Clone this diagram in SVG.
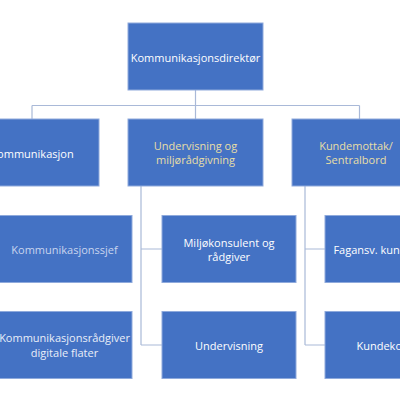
<svg xmlns="http://www.w3.org/2000/svg" width="400" height="400" viewBox="0 0 400 400">
<style>
.box{fill:#4472C4;stroke:#8FAADC;stroke-width:1}
.t{font-family:"Open Sans","Liberation Sans",sans-serif;font-size:11px;text-anchor:middle;dominant-baseline:central;fill:#FFFFFF}
.y{fill:#E8DFA6}
.g{fill:#C9D5EE}
.l{fill:#E9EEF8}
.c{fill:none;stroke:#A9B9D8;stroke-width:1.2}
</style>
<rect width="400" height="400" fill="#FFFFFF"/>
<g id="connectors">
<path class="c" d="M195.5 90 V105.5 M32 105.5 H359.5 M32 105.5 V119 M195.5 105.5 V119 M359.5 105.5 V119"/>
<path class="c" d="M141 186 V345 M141 249 H162 M141 345 H162"/>
<path class="c" d="M305 186 V345 M305 249 H325 M305 345 H325"/>
</g>
<g id="n-direktor"><rect class="box" x="128" y="23" width="135" height="67"/><text class="t" x="195.5" y="57">Kommunikasjonsdirektør</text></g>
<g id="n-kommunikasjon"><rect class="box" x="-36" y="119" width="135" height="67"/><text class="t" x="32" y="153">Kommunikasjon</text></g>
<g id="n-undervisning-miljo"><rect class="box" x="128" y="119" width="135" height="67"/><text class="t y" x="195.5" y="145.5">Undervisning og</text><text class="t y" x="195.5" y="159.5">miljørådgivning</text></g>
<g id="n-kundemottak"><rect class="box" x="292" y="119" width="135" height="67"/><text class="t y" x="356" y="145.5">Kundemottak/</text><text class="t y" x="356" y="159.5">Sentralbord</text></g>
<g id="n-kommsjef"><rect class="box" x="-3" y="215.5" width="135" height="67"/><text class="t g" x="64.5" y="249">Kommunikasjonssjef</text></g>
<g id="n-kommradgiver"><rect class="box" x="-3" y="311.5" width="135" height="67"/><text class="t l" x="64.5" y="337.5">Kommunikasjonsrådgiver</text><text class="t l" x="64.5" y="352">digitale flater</text></g>
<g id="n-miljokonsulent"><rect class="box" x="162" y="215.5" width="134" height="67"/><text class="t" x="229" y="242">Miljøkonsulent og</text><text class="t" x="229" y="256">rådgiver</text></g>
<g id="n-undervisning"><rect class="box" x="162" y="311.5" width="134" height="67"/><text class="t" x="229" y="345">Undervisning</text></g>
<g id="n-fagansv"><rect class="box" x="325" y="215.5" width="135" height="67"/><text class="t" x="392.5" y="249">Fagansv. kundekontakt</text></g>
<g id="n-kundekontakt"><rect class="box" x="325" y="311.5" width="135" height="67"/><text class="t" x="392.5" y="345">Kundekontakt</text></g>
</svg>
